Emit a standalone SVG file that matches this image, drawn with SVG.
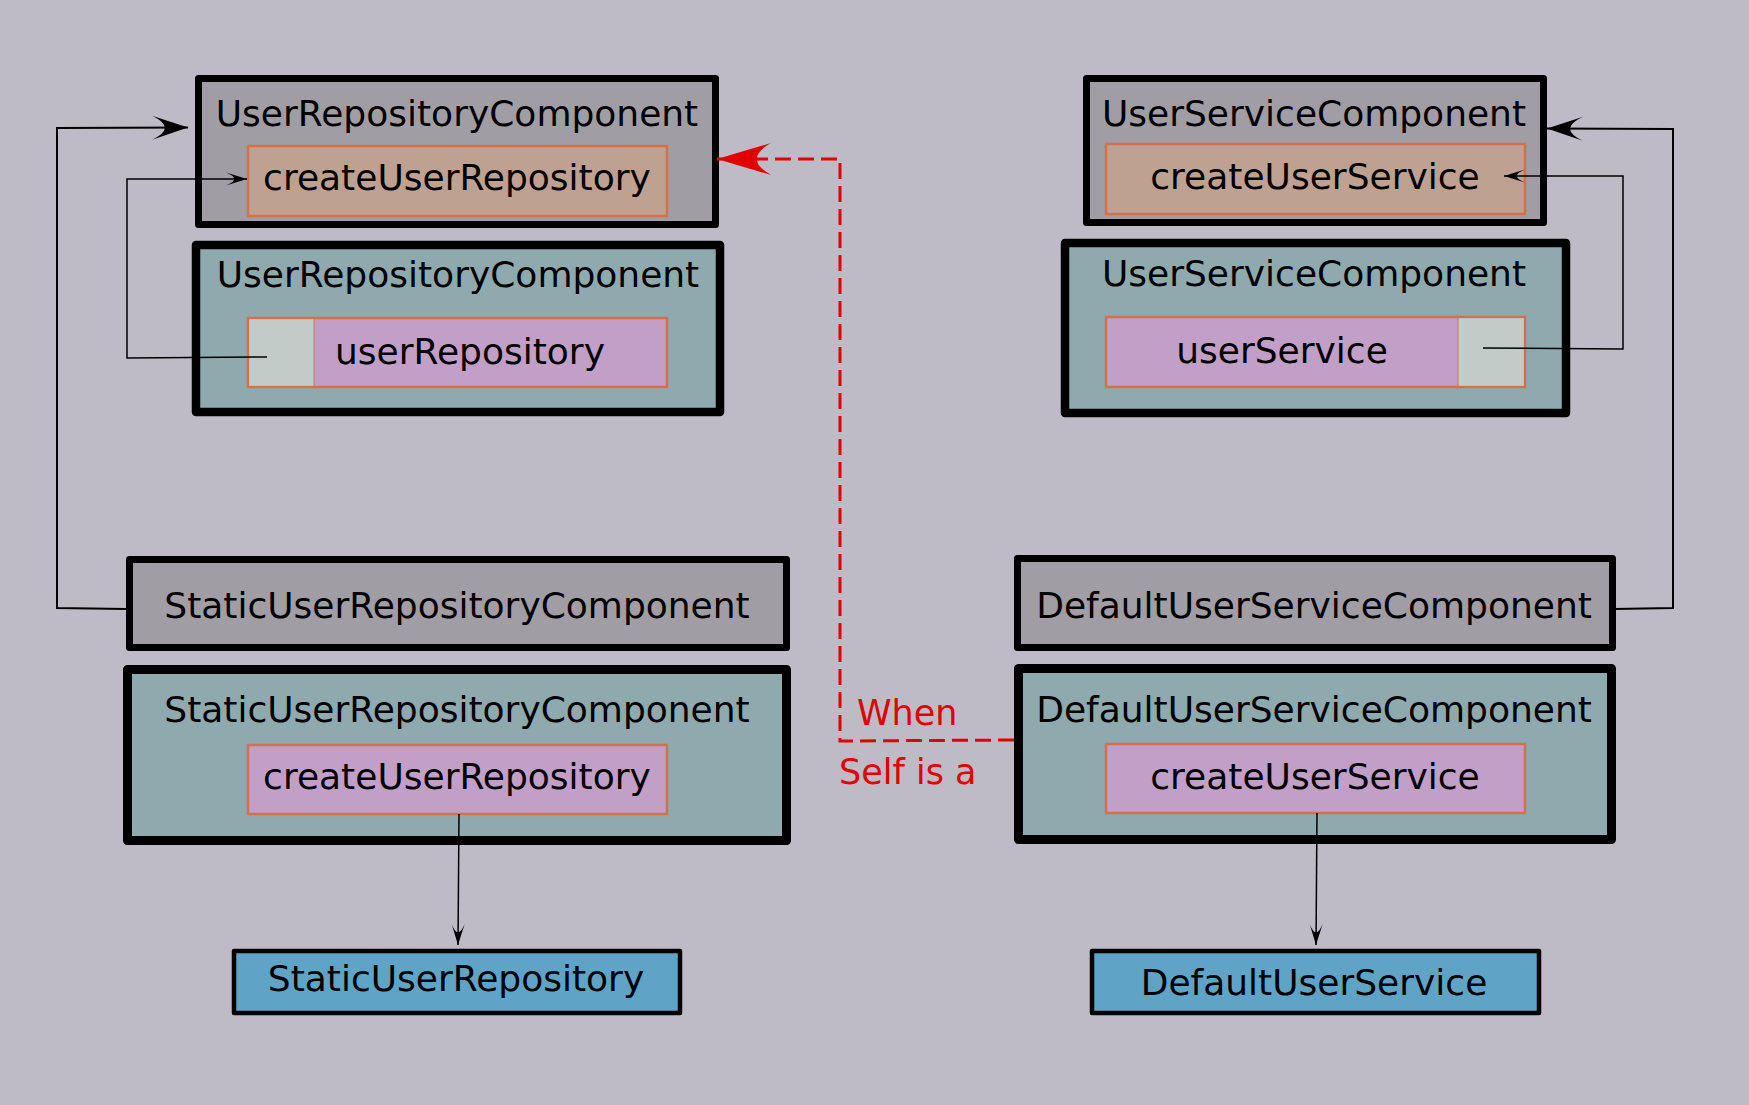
<svg xmlns="http://www.w3.org/2000/svg" width="1749" height="1105" viewBox="0 0 1749 1105">
<defs>
<style>
text{font-family:"DejaVu Sans","Liberation Sans",sans-serif;font-size:36px;fill:#000;text-anchor:middle}
.outer{stroke:#000;stroke-linejoin:round}
.gray{fill:#a09ea4;stroke-width:7}
.teal{fill:#8eaaae;stroke-width:8.5}
.blue{fill:#5fa3c6;stroke-width:4.5}
.inner{stroke:#d4714d;stroke-width:2.5}
.tan{fill:#bfa191}
.pink{fill:#c19fc6}
.light{fill:#c1ccc8}
.conn{fill:none;stroke:#000}
.red{fill:none;stroke:#e00000;stroke-width:3;stroke-dasharray:16 7}
.rtext{fill:#e00000;text-anchor:start;font-size:35px}
</style>
<marker id="ab" viewBox="-40 -15 45 30" refX="0" refY="0" markerWidth="45" markerHeight="30" markerUnits="userSpaceOnUse" orient="auto" overflow="visible"><path d="M0,0 L-36,-12 C-19,-4 -19,4 -36,12 Z" fill="#000"/></marker>
<marker id="as" viewBox="-25 -10 30 20" refX="0" refY="0" markerWidth="30" markerHeight="20" markerUnits="userSpaceOnUse" orient="auto" overflow="visible"><path d="M0,0 L-21,-6.5 C-10,-2 -10,2 -21,6.5 Z" fill="#000"/></marker>
<marker id="ar" viewBox="-60 -20 65 40" refX="0" refY="0" markerWidth="65" markerHeight="40" markerUnits="userSpaceOnUse" orient="auto" overflow="visible"><path d="M0,0 L-54,-16 C-35,-5 -35,5 -54,16 Z" fill="#e00000"/></marker>
</defs>
<rect x="0" y="0" width="1749" height="1105" fill="#bebbc6"/>

<g id="userRepositoryComponentSelf">
<rect class="outer gray" x="198.5" y="78.5" width="517" height="146"/>
<text x="457" y="126">UserRepositoryComponent</text>
<rect class="inner tan" x="248" y="146" width="419" height="70"/>
<text x="457" y="190">createUserRepository</text>
</g>

<g id="userRepositoryComponent">
<rect class="outer teal" x="196" y="245" width="524" height="167"/>
<text x="458" y="287">UserRepositoryComponent</text>
<rect class="inner pink" x="248" y="318" width="419" height="69"/>
<rect x="249.25" y="319.25" width="64.75" height="66.5" class="light"/>
<line x1="314" y1="319" x2="314" y2="386" stroke="#d4714d" stroke-width="1"/>
<text x="470" y="364">userRepository</text>
</g>

<g id="userServiceComponentSelf">
<rect class="outer gray" x="1086.5" y="78.5" width="457" height="144"/>
<text x="1314" y="126">UserServiceComponent</text>
<rect class="inner tan" x="1106" y="144" width="419" height="70"/>
<text x="1315" y="189">createUserService</text>
</g>

<g id="userServiceComponent">
<rect class="outer teal" x="1065" y="243" width="501" height="170"/>
<text x="1314" y="286">UserServiceComponent</text>
<rect class="inner pink" x="1106" y="317" width="419" height="70"/>
<rect x="1458" y="318.25" width="65.75" height="67.5" class="light"/>
<line x1="1458" y1="318" x2="1458" y2="386" stroke="#d4714d" stroke-width="1"/>
<text x="1282" y="363">userService</text>
</g>

<g id="staticUserRepositoryComponentSelf">
<rect class="outer gray" x="129.5" y="559.5" width="657" height="88"/>
<text x="457" y="618">StaticUserRepositoryComponent</text>
</g>

<g id="staticUserRepositoryComponent">
<rect class="outer teal" x="127.5" y="669.5" width="659" height="171" style="stroke-width:9"/>
<text x="457" y="722">StaticUserRepositoryComponent</text>
<rect class="inner pink" x="248" y="745" width="419" height="69"/>
<text x="457" y="789">createUserRepository</text>
</g>

<g id="defaultUserServiceComponentSelf">
<rect class="outer gray" x="1017.5" y="558.5" width="595" height="89"/>
<text x="1314" y="618">DefaultUserServiceComponent</text>
</g>

<g id="defaultUserServiceComponent">
<rect class="outer teal" x="1018.5" y="668.5" width="593" height="171" style="stroke-width:9"/>
<text x="1314" y="722">DefaultUserServiceComponent</text>
<rect class="inner pink" x="1106" y="744" width="419" height="69"/>
<text x="1315" y="789">createUserService</text>
</g>

<g id="staticUserRepository">
<rect class="outer blue" x="234" y="951" width="446" height="62"/>
<text x="456" y="991">StaticUserRepository</text>
</g>

<g id="defaultUserService">
<rect class="outer blue" x="1092" y="951" width="447" height="62"/>
<text x="1314" y="995">DefaultUserService</text>
</g>

<g id="connectors">
<path class="conn" stroke-width="2" d="M126,609 L57,608 L57,128 L188,127.5" marker-end="url(#ab)"/>
<path class="conn" stroke-width="1.5" d="M267,357 L127,358 L127,179 L247,179" marker-end="url(#as)"/>
<path class="conn" stroke-width="2" d="M1614,609 L1673,608 L1673,129 L1547,128.5" marker-end="url(#ab)"/>
<path class="conn" stroke-width="1.5" d="M1483,348 L1623,349 L1623,176 L1504,176" marker-end="url(#as)"/>
<path class="conn" stroke-width="1.5" d="M459,814 L458,945" marker-end="url(#as)"/>
<path class="conn" stroke-width="1.5" d="M1317,813 L1316,945" marker-end="url(#as)"/>
<path class="red" d="M1014,740 L840,741 L840,159 L717,159" marker-end="url(#ar)"/>
<text class="rtext" x="857" y="725">When</text>
<text class="rtext" x="839" y="784">Self is a</text>
</g>
</svg>
